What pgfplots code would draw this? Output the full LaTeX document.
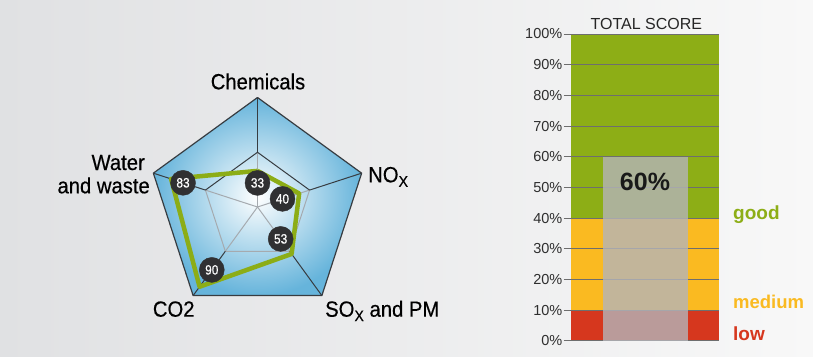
\documentclass[border=0pt]{standalone}
\usepackage{fontspec}
\setmainfont{Liberation Sans}
\newfontfamily\condfont[FakeStretch=0.92, FakeBold=0.4]{Liberation Sans}
\newfontfamily\badgefont[FakeStretch=0.88, FakeBold=0.6]{Liberation Sans}
\usepackage{pgfplots}
\pgfplotsset{compat=1.18}
\usepgfplotslibrary{polar}
\definecolor{bgL}{RGB}{224,225,227}
\definecolor{bgR}{RGB}{248,248,248}
\definecolor{pblue}{RGB}{102,180,219}
\definecolor{pline}{RGB}{55,60,65}
\definecolor{sgrey}{RGB}{165,170,175}
\definecolor{sgreen}{RGB}{140,173,22}
\definecolor{zgreen}{RGB}{141,174,22}
\definecolor{zorange}{RGB}{250,186,33}
\definecolor{zred}{RGB}{214,55,30}
\definecolor{ovl}{RGB}{180,180,185}
\definecolor{gridc}{RGB}{110,110,110}
\definecolor{dot}{RGB}{48,48,50}
\begin{document}
\begin{tikzpicture}
\shade[left color=bgL, right color=bgR] (0pt,0pt) rectangle (813pt,-356pt);
% ---------------- radar chart ----------------
\begin{polaraxis}[hide axis, scale only axis, width=219pt, height=219pt,
  xmin=0, xmax=360, ymin=0, ymax=100, clip=false,
  at={(257.5pt,-207pt)}, anchor=center]
% shaded pentagon
\addplot[draw=none, inner color=white, outer color=pblue]
  coordinates {(90,100) (18,100) (306,100) (234,100) (162,100) (90,100)};
% inner spokes
\addplot[sgrey, line width=1pt] coordinates {(90,0) (90,50)};
\addplot[sgrey, line width=1pt] coordinates {(18,0) (18,50)};
\addplot[sgrey, line width=1pt] coordinates {(306,0) (306,50)};
\addplot[sgrey, line width=1pt] coordinates {(234,0) (234,50)};
\addplot[sgrey, line width=1pt] coordinates {(162,0) (162,50)};
% inner pentagon (50%)
\addplot[sgrey, line width=1pt, line join=round] coordinates {(18,50) (306,50) (234,50) (162,50)};
\addplot[pline, line width=1pt, line join=round] coordinates {(162,50) (90,50) (18,50)};
% outer spokes
\addplot[pline, line width=1pt] coordinates {(90,50) (90,100)};
\addplot[pline, line width=1pt] coordinates {(18,50) (18,100)};
\addplot[pline, line width=1pt] coordinates {(306,50) (306,100)};
\addplot[pline, line width=1pt] coordinates {(234,50) (234,100)};
\addplot[pline, line width=1pt] coordinates {(162,50) (162,100)};
% outer pentagon
\addplot[pline, line width=1.2pt, line join=round]
  coordinates {(90,100) (18,100) (306,100) (234,100) (162,100) (90,100)};
% scores
\addplot[sgreen, line width=4.5pt, line join=round]
  coordinates {(90,33) (18,40) (306,53) (234,90) (162,83) (90,33)};
% value badges
\addplot[only marks, mark=*, mark size=12.5pt,
  mark options={fill=dot, draw=dot},
  point meta=explicit symbolic, nodes near coords,
  nodes near coords align=center,
  every node near coord/.append style={anchor=center, text=white,
    font=\badgefont\fontsize{13.5}{13.5}\selectfont}]
  coordinates {(90,22) [33] (18,24) [40] (306,36) [53] (234,71) [90] (162,71.5) [83]};
\end{polaraxis}
\begin{scope}[font=\condfont\fontsize{22}{22}\selectfont, text=black]
\node[anchor=base, inner sep=0pt] at (258pt,-89.3pt) {Chemicals};
\node[anchor=base west, inner sep=0pt] at (368pt,-182.3pt) {NO\raisebox{-4.5pt}{\fontsize{15.5}{15.5}\selectfont X}};
\node[anchor=base west, inner sep=0pt] at (325pt,-316.7pt) {SO\raisebox{-4.5pt}{\fontsize{15.5}{15.5}\selectfont X} and PM};
\node[anchor=base west, inner sep=0pt] at (152.7pt,-316.7pt) {CO2};
\node[anchor=base east, inner sep=0pt] at (145pt,-170pt) {Water};
\node[anchor=base east, inner sep=0pt] at (150pt,-193.3pt) {and waste};
\end{scope}
% ---------------- total score bar ----------------
\begin{axis}[scale only axis, width=148.3pt, height=306.7pt,
  at={(570.7pt,-340.7pt)}, anchor=south west,
  xmin=0, xmax=1, ymin=0, ymax=100, clip=false,
  axis line style={draw=none}, xtick=\empty,
  ytick={0,10,...,100}, ytick pos=left, tick align=outside,
  major tick length=7pt, ytick style={gridc, line width=0.9pt},
  /pgf/number format/assume math mode=true,
  yticklabel={\pgfmathprintnumber{\tick}\%},
  yticklabel style={font=\fontsize{14.5}{14.5}\selectfont, text=black!82, inner sep=1.2pt}]
\addplot[fill=zgreen, draw=none] coordinates {(0,100) (1,100)} \closedcycle;
\addplot[fill=zorange, draw=none] coordinates {(0,40) (1,40)} \closedcycle;
\addplot[fill=zred, draw=none] coordinates {(0,10) (1,10)} \closedcycle;
\pgfplotsinvokeforeach{0,10,...,100}{\draw[gridc, line width=0.9pt] (axis cs:0,#1) -- (axis cs:1,#1);}
\addplot[fill=ovl, fill opacity=0.8, draw=none] coordinates {(0.22,60) (0.79,60)} \closedcycle;
\end{axis}
\node[anchor=base, font=\fontsize{16}{16}\selectfont, text=black!85] at (646.3pt,-29pt) {TOTAL SCORE};
\node[anchor=base, font=\bfseries\fontsize{25}{25}\selectfont, text=black!90] at (645pt,-190pt) {60\%};
\node[anchor=base west, inner sep=0pt, font=\bfseries\fontsize{19}{19}\selectfont, text=zgreen] at (733pt,-219.3pt) {good};
\node[anchor=base west, inner sep=0pt, font=\bfseries\fontsize{18.5}{18.5}\selectfont, text=zorange] at (733pt,-308.3pt) {medium};
\node[anchor=base west, inner sep=0pt, font=\bfseries\fontsize{19}{19}\selectfont, text=zred] at (733pt,-340pt) {low};
\end{tikzpicture}
\end{document}
